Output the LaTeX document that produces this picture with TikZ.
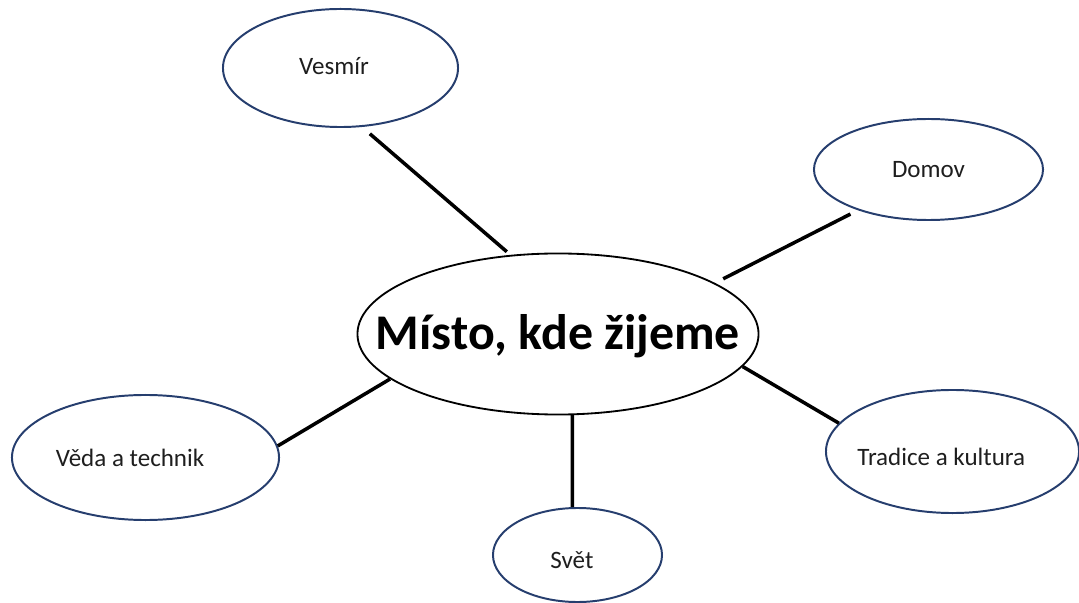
\documentclass[tikz,border=0pt]{standalone}
\usepackage{fontspec}
\setmainfont{Carlito}
\usepackage{tikz}
\usetikzlibrary{shapes.geometric, positioning}
\usepackage{xcolor}
\definecolor{topicnavy}{RGB}{38, 62, 110}
\definecolor{inktext}{RGB}{30, 30, 30}

% text in a zero-width box, moved by #1 sideways and #2 up
\newcommand{\nudged}[3]{\makebox[0pt]{\kern#1\kern#1\raisebox{#2}[\height][\depth]{#3}}}

\begin{document}
\begin{tikzpicture}[
    x=0.025cm, y=-0.025cm,
    topic/.style={draw=topicnavy, ellipse, line width=1.4pt, inner sep=0pt,
                  text=inktext, font=\fontsize{17.8}{21}\selectfont},
    hub/.style={draw=black, ellipse, line width=1.3pt, inner sep=0pt,
                text=black, font=\fontsize{35.5}{40}\selectfont\bfseries},
    link/.style={draw=black, line width=2.5pt},
  ]
    \useasboundingbox (0,0) rectangle (1079,603);

    % Central topic
    \node[hub, minimum width=10.025cm, minimum height=4.025cm] (misto) at (558,334)
      {\nudged{0pt}{-1.5pt}{Místo, kde žijeme}};

    % Topics around it
    \node[topic, minimum width=5.875cm, minimum height=2.95cm] (vesmir) at (340.5,68)
      {\nudged{-4.6pt}{1.5pt}{Vesmír}};
    \node[topic, minimum width=5.725cm, minimum height=2.525cm] (domov) at (928.5,169.5)
      {\nudged{0pt}{0pt}{Domov}};
    \node[topic, minimum width=6.675cm, minimum height=3.125cm] (veda) at (145.5,457.5)
      {\nudged{-11pt}{0pt}{Věda a technik}};
    \node[topic, minimum width=6.325cm, minimum height=3.075cm] (tradice) at (952.5,451.5)
      {\nudged{-8pt}{-3.5pt}{Tradice a kultura}};
    \node[topic, minimum width=4.225cm, minimum height=2.35cm] (svet) at (577.5,555)
      {\nudged{-4pt}{-3.5pt}{Svět}};

    % Links
    \draw[link, shorten <=0.26cm, shorten >=0.12cm] (vesmir.-70.4) -- (misto.121.8);
    \draw[link, shorten <=0.21cm, shorten >=0.23cm] (domov.-150.8) -- (misto.18.2);
    \draw[link] (veda.5.5) -- (misto.195);
    \draw[link] (tradice.166.5) -- (misto.-10.9);
    \draw[link] (svet.96.7) -- (misto.-80.05);
  \end{tikzpicture}
\end{document}
